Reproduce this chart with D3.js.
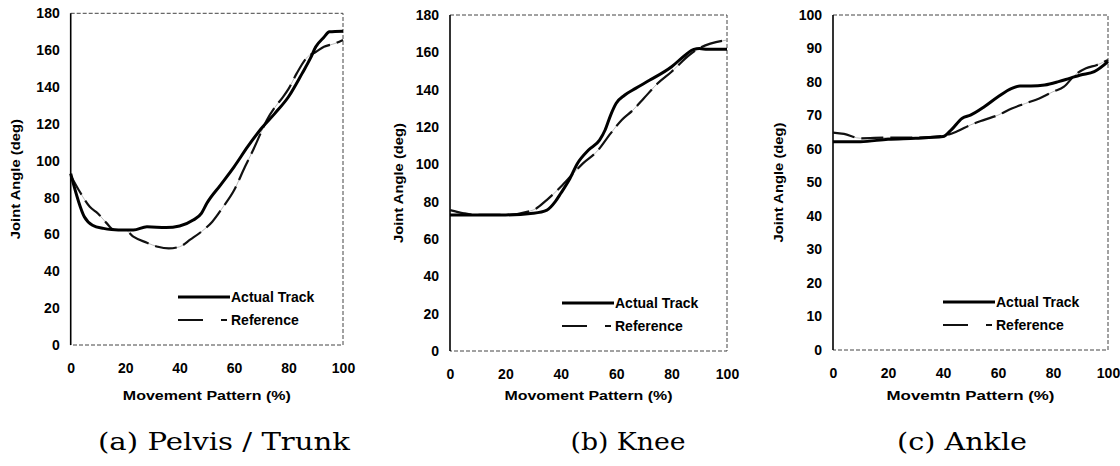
<!DOCTYPE html>
<html>
<head>
<meta charset="utf-8">
<script src="https://cdn.jsdelivr.net/npm/d3@7"></script>
<style>
  body { margin: 0; background: #fff; }
  svg { display: block; }
</style>
</head>
<body>
<svg width="1120" height="466"></svg>
<script>
// values
const pelvisActualX = [0, 5, 8, 12, 15, 20, 23, 28, 35, 40, 45, 48, 50, 55, 60, 65, 70, 75, 80, 85, 88, 90, 93, 95, 100];
const pelvisActualY = [93, 69.6, 65, 63.3, 62.7, 62.4, 62.4, 64.2, 63.7, 64.6, 67.8, 71.4, 76.9, 86.8, 96.7, 107.6, 117.5, 125.7, 134.7, 147.4, 155.5, 161.8, 167, 170, 170.3];
const pelvisRefX = [0, 3, 7, 10, 13, 16, 20, 23, 28, 32, 36, 40, 44, 48, 52, 56, 60, 64, 67, 70, 72, 75, 78, 80, 83, 87, 90, 93, 97, 100];
const pelvisRefY = [92, 84, 75, 71.4, 66.4, 62.4, 62.4, 58.8, 55.5, 53.3, 52.4, 53.3, 57.3, 61.5, 66.9, 75, 84, 96.7, 105.8, 115.7, 122, 129, 134.7, 139, 147.4, 156.4, 159, 161.8, 163.6, 165.5];

const kneeActualX = [0, 10, 20, 30, 35, 38, 40, 43, 46, 50, 54, 56, 58, 60, 63, 67, 72, 80, 85, 88, 90, 93, 100];
const kneeActualY = [72.9, 72.9, 72.9, 73.8, 75.5, 80, 84.5, 91.6, 100.5, 107.7, 113, 118.4, 126.4, 132.7, 137, 140.7, 145, 152.3, 158.6, 161.6, 162, 161.6, 161.6];
const kneeRefX = [0, 5, 10, 20, 30, 35, 40, 44, 48, 53, 58, 62, 66, 70, 75, 80, 85, 88, 100];
const kneeRefY = [75.5, 73.8, 72.9, 72.9, 75.5, 81, 88, 94.3, 100.5, 106.8, 116.6, 123.8, 129, 135.4, 143.4, 149.6, 156.8, 160.4, 166.6];

const ankleActualX = [0, 10, 20, 30, 40, 43, 47, 50, 55, 60, 65, 68, 72, 77, 82, 86, 90, 95, 100];
const ankleActualY = [62.2, 62.2, 62.9, 63.2, 63.7, 65.7, 69.2, 70.1, 72.6, 75.6, 78.1, 78.8, 78.8, 79.1, 80.1, 81.1, 82.1, 83.1, 86.1];
const ankleRefX = [0, 4, 10, 20, 30, 40, 45, 50, 55, 60, 65, 70, 75, 80, 84, 88, 92, 96, 100];
const ankleRefY = [64.9, 64.5, 63.2, 63.4, 63.4, 63.9, 65.2, 67.2, 68.7, 70.1, 72.1, 73.6, 75.1, 77.1, 78.6, 82.1, 84.1, 85.1, 86.6];

const xTicks = [0, 20, 40, 60, 80, 100];
const yTicksWide = [0, 20, 40, 60, 80, 100, 120, 140, 160, 180];
const yTicksAnkle = [0, 10, 20, 30, 40, 50, 60, 70, 80, 90, 100];

const seriesNames = ["Actual Track", "Reference"];
const xTitles = ["Movement Pattern (%)", "Movoment Pattern (%)", "Movemtn Pattern (%)"];
const yTitle = "Joint Angle (deg)";
const captions = ["(a) Pelvis / Trunk", "(b) Knee", "(c) Ankle"];

const zip = (xs, ys) => xs.map((x, i) => ({ x, y: ys[i] }));

const panels = [
  { box: [70.7, 13.3, 343, 345], yMax: 180, yTicks: yTicksWide, titleX: 15, capX: 224, capW: 252,
    actual: zip(pelvisActualX, pelvisActualY), ref: zip(pelvisRefX, pelvisRefY) },
  { box: [450, 15, 727, 351], yMax: 180, yTicks: yTicksWide, titleX: 398, capX: 628, capW: 115,
    actual: zip(kneeActualX, kneeActualY), ref: zip(kneeRefX, kneeRefY) },
  { box: [833, 15, 1108, 350], yMax: 100, yTicks: yTicksAnkle, titleX: 778, capX: 962, capW: 130,
    actual: zip(ankleActualX, ankleActualY), ref: zip(ankleRefX, ankleRefY) }
];

const svg = d3.select("svg");
const sans = "'Liberation Sans', Arial, sans-serif";

panels.forEach((p, i) => {
  const [x0, y0, x1, y1] = p.box;
  const x = d3.scaleLinear().domain([0, 100]).range([x0, x1]);
  const y = d3.scaleLinear().domain([0, p.yMax]).range([y1, y0]);
  const g = svg.append("g");

  // dotted frame, solid left axis
  g.append("path")
    .attr("d", `M${x0},${y0}H${x1}V${y1}H${x0}`)
    .attr("fill", "none")
    .attr("stroke", "#444")
    .attr("stroke-width", 1)
    .attr("stroke-dasharray", "4,2");
  g.append("line")
    .attr("x1", x0).attr("x2", x0).attr("y1", y0).attr("y2", y1)
    .attr("stroke", "#000").attr("stroke-width", 1.6);

  const xAxis = g.append("g")
    .attr("transform", `translate(0,${y1})`)
    .call(d3.axisBottom(x).tickValues(xTicks).tickSize(0).tickPadding(18));
  const yAxis = g.append("g")
    .attr("transform", `translate(${x0},0)`)
    .call(d3.axisLeft(y).tickValues(p.yTicks).tickSize(0).tickPadding(11));
  [xAxis, yAxis].forEach(a => {
    a.select(".domain").remove();
    a.selectAll("text")
      .attr("font-family", sans)
      .attr("font-weight", "bold")
      .attr("font-size", 14)
      .attr("fill", "#000");
  });

  g.append("text")
    .attr("x", (x0 + x1) / 2)
    .attr("y", 400)
    .attr("text-anchor", "middle")
    .attr("font-family", sans)
    .attr("font-weight", "bold")
    .attr("font-size", 13)
    .attr("textLength", 168)
    .attr("lengthAdjust", "spacingAndGlyphs")
    .text(xTitles[i]);

  g.append("text")
    .attr("transform", `translate(${p.titleX + 5},${(y0 + y1) / 2}) rotate(-90)`)
    .attr("text-anchor", "middle")
    .attr("font-family", sans)
    .attr("font-weight", "bold")
    .attr("font-size", 13)
    .attr("textLength", 120)
    .attr("lengthAdjust", "spacingAndGlyphs")
    .text(yTitle);

  const line = d3.line()
    .x(d => x(d.x))
    .y(d => y(d.y))
    .curve(d3.curveMonotoneX);

  // faint trace visible in the gaps of the dashed reference
  g.append("path")
    .datum(p.ref)
    .attr("d", line)
    .attr("fill", "none")
    .attr("stroke", "#aaa")
    .attr("stroke-width", 0.8);
  g.append("path")
    .datum(p.ref)
    .attr("d", line)
    .attr("fill", "none")
    .attr("stroke", "#111")
    .attr("stroke-width", 2.2)
    .attr("stroke-dasharray", "22,7");
  g.append("path")
    .datum(p.actual)
    .attr("d", line)
    .attr("fill", "none")
    .attr("stroke", "#000")
    .attr("stroke-width", 3);

  // legend
  const lx = x1 - 165;
  const ly = [y1 - 48, y1 - 25];
  g.append("line")
    .attr("x1", lx).attr("x2", lx + 52).attr("y1", ly[0]).attr("y2", ly[0])
    .attr("stroke", "#000").attr("stroke-width", 3);
  g.append("line")
    .attr("x1", lx).attr("x2", lx + 52).attr("y1", ly[1]).attr("y2", ly[1])
    .attr("stroke", "#111").attr("stroke-width", 2.2)
    .attr("stroke-dasharray", "25,18,6,10");
  seriesNames.forEach((name, k) => {
    g.append("text")
      .attr("x", lx + 53)
      .attr("y", ly[k])
      .attr("dy", "0.35em")
      .attr("font-family", sans)
      .attr("font-weight", "bold")
      .attr("font-size", 14)
      .text(name);
  });

  svg.append("text")
    .attr("x", p.capX)
    .attr("y", 450)
    .attr("text-anchor", "middle")
    .attr("font-family", "'DejaVu Serif', 'Liberation Serif', serif")
    .attr("font-size", 24)
    .attr("textLength", p.capW)
    .attr("lengthAdjust", "spacingAndGlyphs")
    .text(captions[i]);
});
</script>
</body>
</html>
